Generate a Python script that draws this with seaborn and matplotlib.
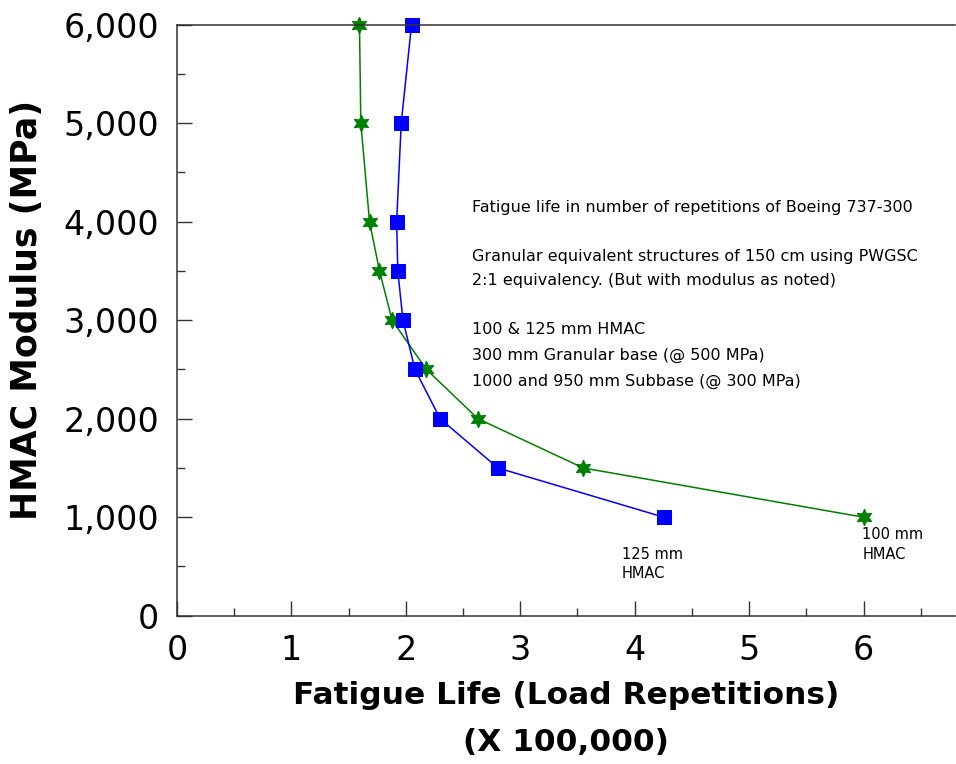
import matplotlib
matplotlib.use("Agg")
import matplotlib.pyplot as plt
import seaborn as sns
import pandas as pd
from matplotlib.ticker import MultipleLocator, FuncFormatter

# ---- data ----
modulus = [6000, 5000, 4000, 3500, 3000, 2500, 2000, 1500, 1000]
life_100mm = [1.595, 1.607, 1.683, 1.77, 1.88, 2.18, 2.63, 3.55, 6.00]
life_125mm = [2.05, 1.96, 1.92, 1.93, 1.975, 2.08, 2.30, 2.805, 4.255]
x_ticks = [0, 1, 2, 3, 4, 5, 6]
y_ticks = [0, 1000, 2000, 3000, 4000, 5000, 6000]

notes = [
    "Fatigue life in number of repetitions of Boeing 737-300",
    "Granular equivalent structures of 150 cm using PWGSC",
    "2:1 equivalency. (But with modulus as noted)",
    "100 & 125 mm HMAC",
    "300 mm Granular base (@ 500 MPa)",
    "1000 and 950 mm Subbase (@ 300 MPa)",
]
note_y = [4149, 3642, 3398, 2901, 2647, 2383]

df100 = pd.DataFrame({"life": life_100mm, "modulus": modulus})
df125 = pd.DataFrame({"life": life_125mm, "modulus": modulus})

sns.set_style("white")
plt.rcParams["font.family"] = ["DejaVu Sans"]
plt.rcParams["text.color"] = "black"
plt.rcParams["axes.labelcolor"] = "black"
plt.rcParams["xtick.color"] = "black"
plt.rcParams["ytick.color"] = "black"

fig = plt.figure(figsize=(9.56, 7.64), dpi=100)
ax = fig.add_axes([0.1851, 0.1941, 0.8139, 0.7736])

sns.lineplot(data=df100, x="life", y="modulus", sort=False, ax=ax,
             color="#008000", linewidth=1.1, marker=(6, 1, 0),
             markersize=12, markeredgecolor="#008000", clip_on=False)
sns.lineplot(data=df125, x="life", y="modulus", sort=False, ax=ax,
             color="#0000FF", linewidth=1.1, marker="s",
             markersize=10.5, markeredgecolor="#0000FF", clip_on=False)

ax.set_xlim(0, 6.8)
ax.set_ylim(0, 6000)
ax.set_xticks(x_ticks)
ax.set_yticks(y_ticks)
ax.xaxis.set_minor_locator(MultipleLocator(0.5))
ax.yaxis.set_minor_locator(MultipleLocator(500))
ax.yaxis.set_major_formatter(FuncFormatter(lambda v, p: f"{int(v):,}"))

for s in ["left", "bottom", "top"]:
    ax.spines[s].set_color("#333333")
    ax.spines[s].set_linewidth(1.1)
ax.spines["right"].set_visible(False)

ax.tick_params(which="both", direction="in", color="#333333", width=1.0,
               labelcolor="black",
               top=False, right=False, bottom=True, left=True)
ax.tick_params(which="major", length=11, labelsize=24, pad=13)
ax.tick_params(which="minor", length=5.5)

ax.set_xlabel("Fatigue Life (Load Repetitions)\n(X 100,000)", fontsize=22.5,
              fontweight="bold", linespacing=1.8, color="black")
ax.xaxis.set_label_coords(0.5, -0.11)
ax.set_ylabel("HMAC Modulus (MPa)", fontsize=25, fontweight="bold",
              va="center", color="black")
ax.yaxis.set_label_coords(-0.193, 0.517)

for t, yv in zip(notes, note_y):
    ax.text(2.58, yv, t, fontsize=11.5, va="center", ha="left", color="black")

ax.text(3.89, 626, "125 mm", fontsize=10.5, va="center", ha="left", color="black")
ax.text(3.89, 433, "HMAC", fontsize=10.5, va="center", ha="left", color="black")
ax.text(5.99, 829, "100 mm", fontsize=10.5, va="center", ha="left", color="black")
ax.text(5.99, 626, "HMAC", fontsize=10.5, va="center", ha="left", color="black")

fig.savefig("out.png", dpi=100)
